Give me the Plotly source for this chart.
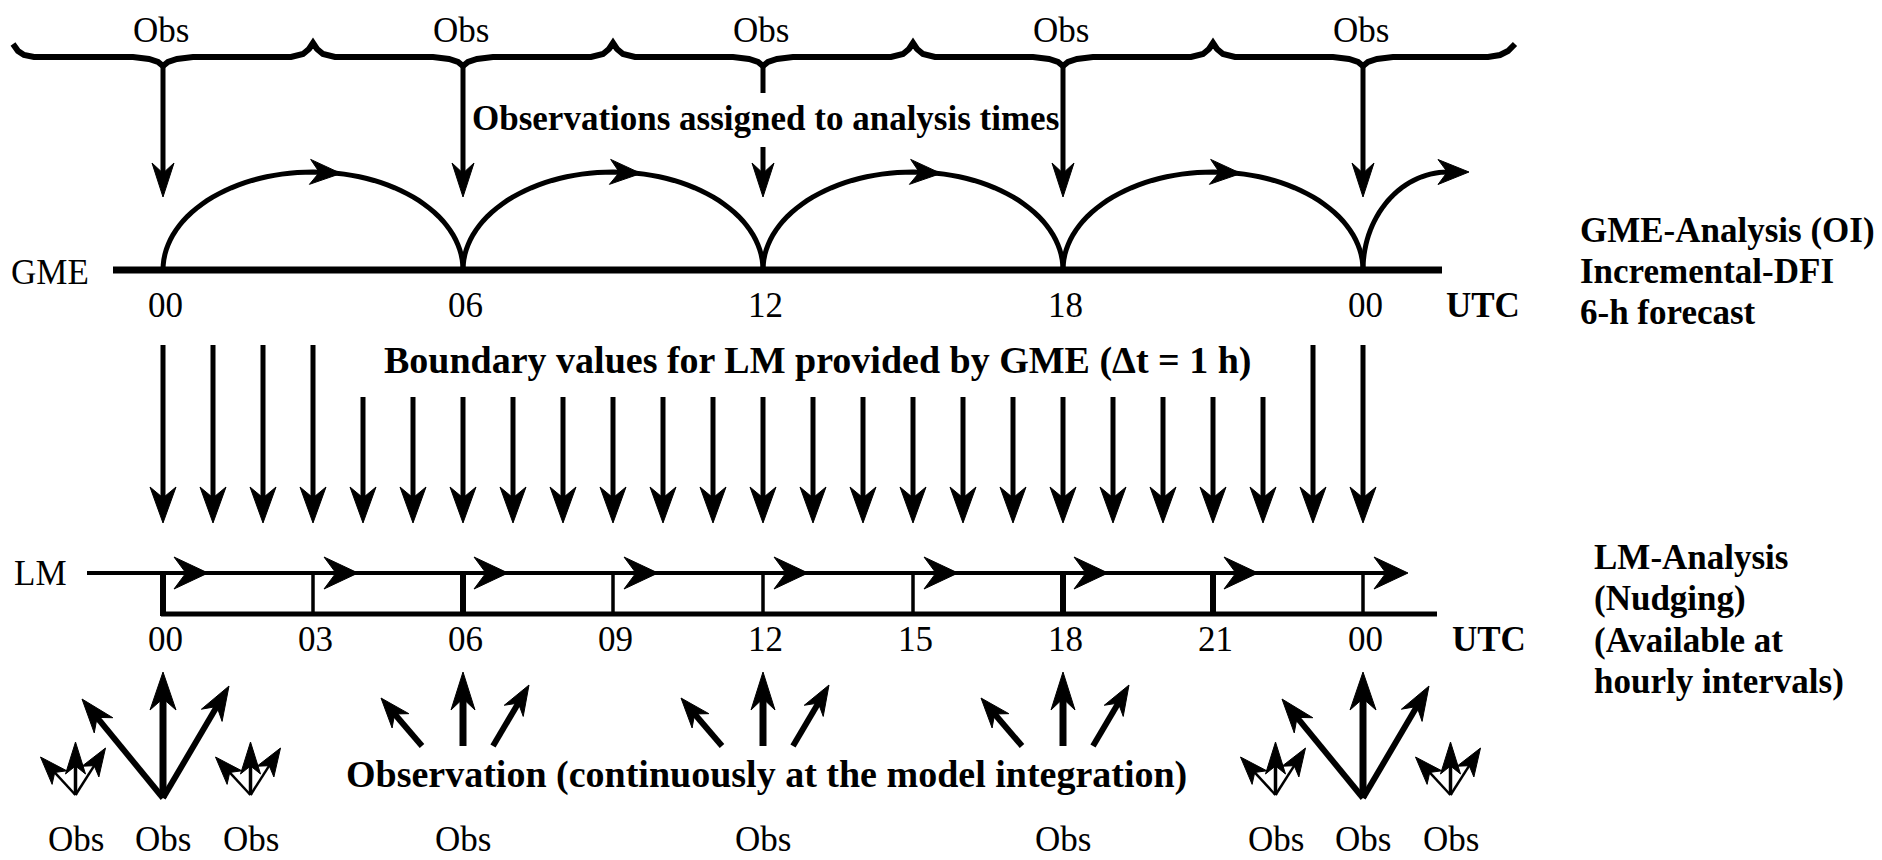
import math
import plotly.graph_objects as go

# ---------------- data (hours of the day) ----------------
GME_HOURS = [0, 6, 12, 18, 24]
GME_LABELS = ["00", "06", "12", "18", "00"]
LM_HOURS = [0, 3, 6, 9, 12, 15, 18, 21, 24]
LM_LABELS = ["00", "03", "06", "09", "12", "15", "18", "21", "00"]
BOUNDARY_HOURS = list(range(0, 25))
BOUNDARY_LONG = [0, 1, 2, 3, 23, 24]
OBS_TOP_HOURS = [0, 6, 12, 18, 24]
OBS_FAN_HOURS = [6, 12, 18]
OBS_BIG_HOURS = [0, 24]
OBS_SMALL_OFFSET = 1.75
OBS_BOTTOM_LABEL_HOURS = [-1.75, 0, 1.75, 6, 12, 18, 22.25, 24, 25.75]
GME_INFO = ["GME-Analysis (OI)", "Incremental-DFI", "6-h forecast"]
LM_INFO = ["LM-Analysis", "(Nudging)", "(Available at", "hourly intervals)"]

# ---------------- layout constants (pixels) ----------------
W, H = 1882, 860
X0, PXH = 163.0, 50.0          # pixel of hour 0, pixels per hour
FONT = "Liberation Serif"
FS = 35

def px(h):
    return X0 + PXH * h

def hx(p):
    return (p - X0) / PXH

shapes = []
annotations = []

def line(xa, ya, xb, yb, w):
    shapes.append(dict(type="line", xref="x", yref="y", x0=hx(xa), y0=ya, x1=hx(xb), y1=yb,
                       line=dict(color="black", width=w)))

def polyline(pts, w):
    d = "M" + " L".join(f"{hx(x):.4f},{y:.2f}" for x, y in pts)
    shapes.append(dict(type="path", xref="x", yref="y", path=d,
                       line=dict(color="black", width=w), fillcolor="rgba(0,0,0,0)"))

def polygon(pts):
    d = "M" + " L".join(f"{hx(x):.4f},{y:.2f}" for x, y in pts) + " Z"
    shapes.append(dict(type="path", xref="x", yref="y", path=d,
                       line=dict(color="black", width=1), fillcolor="black"))

def head(tx, ty, ux, uy, L, Wd, notch=0.3):
    n = math.hypot(ux, uy)
    ux, uy = ux / n, uy / n
    vx, vy = -uy, ux
    polygon([(tx, ty),
             (tx - L * ux + Wd / 2 * vx, ty - L * uy + Wd / 2 * vy),
             (tx - L * (1 - notch) * ux, ty - L * (1 - notch) * uy),
             (tx - L * ux - Wd / 2 * vx, ty - L * uy - Wd / 2 * vy)])

def arrow(xa, ya, xb, yb, w, L, Wd, notch=0.3):
    dx, dy = xb - xa, yb - ya
    n = math.hypot(dx, dy)
    ux, uy = dx / n, dy / n
    line(xa, ya, xb - 0.6 * L * ux, yb - 0.6 * L * uy, w)
    head(xb, yb, ux, uy, L, Wd, notch)

def text(x, y, s, bold=False, xanchor="center", size=FS):
    annotations.append(dict(x=hx(x), y=y, xref="x", yref="y", text=(f"<b>{s}</b>" if bold else s),
                            showarrow=False, xanchor=xanchor, yanchor="middle", borderpad=0,
                            font=dict(family=FONT, size=size, color="black")))

# ---------------- top brace with observations ----------------
pts = [(13, 44), (18, 51), (24, 55), (34, 57)]
marks = []
for h in OBS_TOP_HOURS:
    marks.append(("cusp", px(h)))
for a, b in zip(OBS_TOP_HOURS[:-1], OBS_TOP_HOURS[1:]):
    marks.append(("bump", px((a + b) / 2)))
marks.sort(key=lambda m: m[1])
for kind, xc in marks:
    if kind == "cusp":
        pts += [(xc - 30, 57), (xc - 14, 59), (xc - 5, 62), (xc, 66),
                (xc + 5, 62), (xc + 14, 59), (xc + 30, 57)]
    else:
        pts += [(xc - 22, 57), (xc - 10, 54), (xc - 4, 49), (xc, 43),
                (xc + 4, 49), (xc + 10, 54), (xc + 22, 57)]
pts += [(1488, 57), (1500, 55), (1508, 51), (1515, 44)]
polyline(pts, 6)

for h in OBS_TOP_HOURS:
    text(px(h) - 2, 30, "Obs")
    if h == 12:
        line(px(h), 64, px(h), 93, 5)
        arrow(px(h), 147, px(h), 197, 5, 34, 22)
    else:
        arrow(px(h), 64, px(h), 197, 5, 34, 22)

text(765, 118, "Observations assigned to analysis times", bold=True)

# ---------------- GME row ----------------
Y_G = 270
line(113, Y_G, 1442, Y_G, 7)
text(50, 272, "GME")
ARC_B = 98
for a, b in zip(GME_HOURS[:-1], GME_HOURS[1:]):
    xa, xb = px(a), px(b)
    cx, ra = (xa + xb) / 2, (xb - xa) / 2
    arc = [(cx - ra * math.cos(math.pi * k / 60), Y_G - ARC_B * math.sin(math.pi * k / 60))
           for k in range(61)]
    polyline(arc, 5)
    tip = xa + 178
    head(tip, Y_G - ARC_B * math.sqrt(max(0, 1 - ((tip - 14 - cx) / ra) ** 2)) + 1,
         1, 0.05, 31, 25)
# last partial arc going on past 00 UTC
xa = px(GME_HOURS[-1])
cx, ra = xa + 85, 85
arc = [(cx - ra * math.cos(math.pi / 2 * k / 30), Y_G - ARC_B * math.sin(math.pi / 2 * k / 30))
       for k in range(31)]
polyline(arc + [(cx + 10, Y_G - ARC_B)], 5)
head(cx + 21, Y_G - ARC_B, 1, 0, 31, 25)

for h, lab in zip(GME_HOURS, GME_LABELS):
    text(px(h) + 2, 305, lab)
text(1483, 305, "UTC", bold=True)

for i, s in enumerate(GME_INFO):
    text(1579, 230 + 41 * i, s, bold=True, xanchor="left")

# ---------------- boundary values ----------------
for h in BOUNDARY_HOURS:
    y_top = 345 if h in BOUNDARY_LONG else 397
    arrow(px(h), y_top, px(h), 523, 5, 36, 26)
text(818, 360, "Boundary values for LM provided by GME (\u0394t = 1 h)", bold=True, size=38)

# ---------------- LM row ----------------
Y_L, Y_B = 573, 614
text(40, 573, "LM")
line(87, Y_L, 1385, Y_L, 4)
line(px(0) - 2, Y_B, 1437, Y_B, 5)
TICK_W = {0: 6, 3: 3.5, 6: 6, 9: 3.5, 12: 3.5, 15: 3.5, 18: 6, 21: 6, 24: 3.5}
for h, lab in zip(LM_HOURS, LM_LABELS):
    line(px(h), Y_L, px(h), Y_B + 2, TICK_W[h])
    head(px(h) + 45, Y_L, 1, 0, 34, 32, 0.35)
    text(px(h) + 2, 639, lab)
text(1489, 639, "UTC", bold=True)

for i, s in enumerate(LM_INFO):
    text(1593, 557 + 41.5 * i, s, bold=True, xanchor="left")

# ---------------- bottom observations (nudging) ----------------
for h in OBS_BIG_HOURS:
    xc = px(h)
    arrow(xc, 798, xc, 672, 7, 38, 26)
    arrow(xc, 798, xc - 81, 699, 6, 34, 24)
    arrow(xc, 798, xc + 66, 686, 6, 34, 24)
    for s in (-1, 1):
        xs = px(h + s * OBS_SMALL_OFFSET)
        arrow(xs, 795, xs, 742, 3.5, 32, 20, 0.25)
        arrow(xs, 795, xs - 35, 757, 2.5, 28, 20, 0.25)
        arrow(xs, 795, xs + 30, 748, 2.5, 28, 20, 0.25)

for h in OBS_FAN_HOURS:
    xc = px(h)
    arrow(xc, 746, xc, 672, 7, 38, 24)
    arrow(xc - 41, 746, xc - 82, 698, 6, 30, 22)
    arrow(xc + 30, 746, xc + 66, 685, 6, 30, 22)

text(766, 774, "Observation (continuously at the model integration)", bold=True, size=38)

for h in OBS_BOTTOM_LABEL_HOURS:
    text(px(h), 839, "Obs")

# ---------------- figure ----------------
fig = go.Figure()
fig.add_trace(go.Scatter(x=[hx(0)], y=[0], mode="markers", marker=dict(opacity=0),
                         hoverinfo="skip", showlegend=False))
fig.update_layout(
    width=W, height=H, margin=dict(l=0, r=0, t=0, b=0),
    paper_bgcolor="white", plot_bgcolor="white",
    xaxis=dict(range=[hx(0), hx(W)], visible=False, fixedrange=True),
    yaxis=dict(range=[H, 0], visible=False, fixedrange=True),
    shapes=shapes, annotations=annotations, showlegend=False,
)
fig.write_html("out.html", config=dict(displayModeBar=False),
               post_script="document.body.style.margin='0';document.body.style.overflow='hidden';")
